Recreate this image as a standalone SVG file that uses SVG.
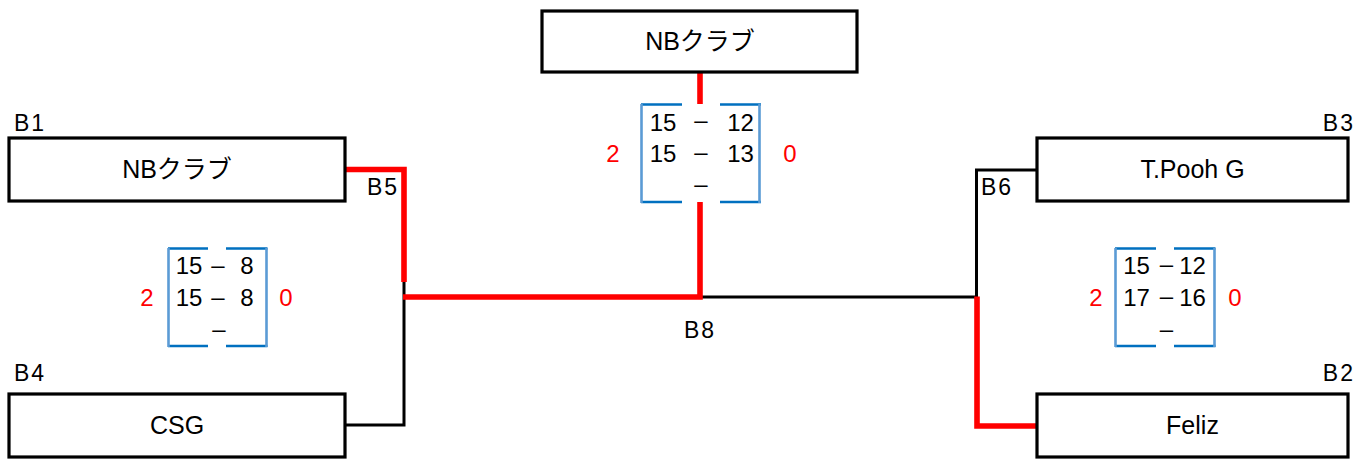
<svg xmlns="http://www.w3.org/2000/svg" width="1367" height="459" viewBox="0 0 1367 459">
<style>
text{font-family:"Liberation Sans","Noto Sans CJK JP",sans-serif;fill:#000}
.box{fill:#fff;stroke:#000;stroke-width:3.2}
.name{font-size:25px;text-anchor:middle}
.lbl{font-size:23px;letter-spacing:2px}
.sc{font-size:24px;text-anchor:middle}
.win{font-size:24px;text-anchor:middle;fill:#ff0000}
.bh{stroke:#0070c0;stroke-width:2.6;fill:none}
.bv{stroke:#5b9bd5;stroke-width:2.6;fill:none}
.lose{stroke:#000;stroke-width:3;fill:none}
.red{stroke:#ff0000;stroke-width:5.6;fill:none;stroke-linejoin:miter}
</style>
<g id="labels">
<text class="lbl" x="14" y="131">B1</text>
<text class="lbl" x="1355" y="131" text-anchor="end">B3</text>
<text class="lbl" x="14" y="381">B4</text>
<text class="lbl" x="1355" y="381" text-anchor="end">B2</text>
<text class="lbl" x="367" y="195">B5</text>
<text class="lbl" x="981" y="195">B6</text>
<text class="lbl" x="684" y="338">B8</text>
</g>
<g id="connectors">
<path class="lose" d="M404,282 V425 H345"/>
<path class="lose" d="M700,297 H977"/>
<path class="lose" d="M976.5,297 V170 H1037"/>
<path class="red" d="M345,169.5 H404 V282"/>
<path class="red" d="M403,297 H700 V202"/>
<path class="red" d="M700,72 V104"/>
<path class="red" d="M977,296.5 V426 H1037"/>
</g>
<g id="node-final">
<rect class="box" x="542" y="11" width="315" height="61"/>
<text class="name" x="700" y="50">NBクラブ</text>
</g>
<g id="node-b1">
<rect class="box" x="9" y="138" width="336" height="63"/>
<text class="name" x="177" y="178">NBクラブ</text>
</g>
<g id="node-b4">
<rect class="box" x="9" y="394" width="336" height="63"/>
<text class="name" x="177" y="434">CSG</text>
</g>
<g id="node-b3">
<rect class="box" x="1037" y="138" width="311" height="63"/>
<text class="name" x="1192.5" y="178">T.Pooh G</text>
</g>
<g id="node-b2">
<rect class="box" x="1037" y="394" width="311" height="63"/>
<text class="name" x="1192.5" y="434">Feliz</text>
</g>
<g id="score-final">
<path class="bh" d="M641,104.5 H682 M720,104.5 H761 M641,202 H682 M720,202 H761"/>
<path class="bv" d="M641.5,104 V203 M759.5,104 V203"/>
<text class="sc" x="663" y="131">15</text>
<text class="sc" x="701" y="128">–</text>
<text class="sc" x="740.5" y="131">12</text>
<text class="sc" x="663" y="162">15</text>
<text class="sc" x="701" y="160">–</text>
<text class="sc" x="740.5" y="162">13</text>
<text class="sc" x="701" y="192">–</text>
<text class="win" x="613" y="162">2</text>
<text class="win" x="790" y="162">0</text>
</g>
<g id="score-b5">
<path class="bh" d="M168,248.5 H208 M226,248.5 H267.5 M168,346 H208 M226,346 H267.5"/>
<path class="bv" d="M168.5,248 V347 M266.5,248 V347"/>
<text class="sc" x="189" y="274">15</text>
<text class="sc" x="218" y="273">–</text>
<text class="sc" x="247" y="274">8</text>
<text class="sc" x="189" y="306">15</text>
<text class="sc" x="218" y="305">–</text>
<text class="sc" x="247" y="306">8</text>
<text class="sc" x="219" y="337">–</text>
<text class="win" x="147" y="306">2</text>
<text class="win" x="286" y="306">0</text>
</g>
<g id="score-b6">
<path class="bh" d="M1115,248.5 H1156 M1174,248.5 H1215.5 M1115,346 H1156 M1174,346 H1215.5"/>
<path class="bv" d="M1115.5,248 V347 M1214.5,248 V347"/>
<text class="sc" x="1136.5" y="274">15</text>
<text class="sc" x="1166.5" y="272">–</text>
<text class="sc" x="1192.5" y="274">12</text>
<text class="sc" x="1136.5" y="306">17</text>
<text class="sc" x="1166.5" y="304">–</text>
<text class="sc" x="1192.5" y="306">16</text>
<text class="sc" x="1166.5" y="337">–</text>
<text class="win" x="1096" y="306">2</text>
<text class="win" x="1235" y="306">0</text>
</g>
</svg>
